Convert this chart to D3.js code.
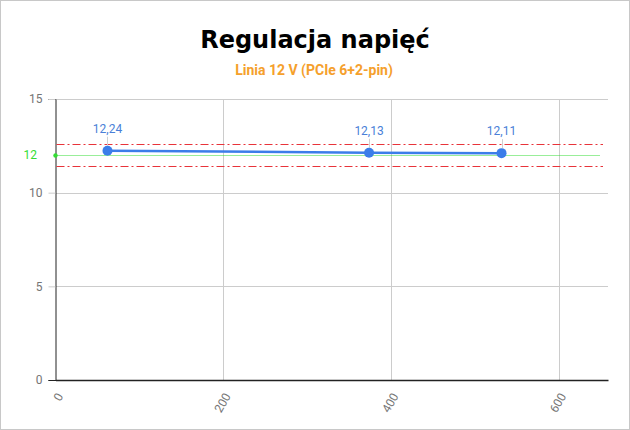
<!DOCTYPE html>
<html>
<head>
<meta charset="utf-8">
<script src="https://cdn.jsdelivr.net/npm/d3@7"></script>
<style>
	body { margin: 0; background: #fff; }
	svg { display: block; }
</style>
</head>
<body>
<svg id="chart" width="630" height="430"></svg>
<script>
var loadW = [62, 374, 532],
	volts = [12.24, 12.13, 12.11],
	nominal = 12,
	limits = [11.4, 12.6],
	yTicks = [0, 5, 10, 15],
	xTicks = [0, 200, 400, 600];

var svg = d3.select("#chart"),
	width = +svg.attr("width"),
	height = +svg.attr("height"),
	margin = {top: 99, right: 22, bottom: 50, left: 55.5};

var x = d3.scaleLinear().domain([0, 659]).range([margin.left, width - margin.right]),
	y = d3.scaleLinear().domain([0, 15]).range([height - margin.bottom, margin.top]);

function px(v) { return Math.round(v) + 0.5; }

// ramka
svg.append("rect")
	.attr("x", 0.5).attr("y", 0.5)
	.attr("width", width - 1).attr("height", height - 1)
	.attr("fill", "#fff")
	.attr("stroke", "#c8c8c8");

// tytuły
svg.append("text")
	.attr("x", width / 2).attr("y", 48)
	.attr("text-anchor", "middle")
	.attr("font-family", "DejaVu Sans")
	.attr("font-weight", "bold")
	.attr("font-size", "24px")
	.attr("fill", "#000")
	.text("Regulacja napięć");
svg.append("text")
	.attr("x", width / 2 - 1).attr("y", 75)
	.attr("text-anchor", "middle")
	.attr("font-family", "Roboto")
	.attr("font-weight", "bold")
	.attr("font-size", "14px")
	.attr("fill", "#f5a02c")
	.text("Linia 12 V (PCIe 6+2-pin)");

// siatka
svg.append("g")
	.selectAll("line.hgrid")
	.data(yTicks)
	.enter()
	.append("line")
	.attr("x1", margin.left).attr("x2", width - margin.right)
	.attr("y1", function (d) { return px(y(d)); })
	.attr("y2", function (d) { return px(y(d)); })
	.attr("stroke", "#cccccc");
svg.append("g")
	.selectAll("line.vgrid")
	.data(xTicks.slice(1))
	.enter()
	.append("line")
	.attr("y1", margin.top).attr("y2", height - margin.bottom)
	.attr("x1", function (d) { return px(x(d)); })
	.attr("x2", function (d) { return px(x(d)); })
	.attr("stroke", "#cccccc");

// osie
var yAxis = svg.append("g")
	.attr("transform", "translate(" + margin.left + ",0)")
	.call(d3.axisLeft(y).tickValues(yTicks).tickSize(7).tickPadding(6));
yAxis.select(".domain").attr("stroke", "#222");
yAxis.selectAll(".tick line").attr("stroke", function (d) { return d === 0 ? "#222" : "#cccccc"; });
yAxis.selectAll("text").attr("font-family", "Roboto").attr("font-size", "12px").attr("fill", "#757575");

var xAxis = svg.append("g")
	.attr("transform", "translate(0," + (height - margin.bottom) + ")")
	.call(d3.axisBottom(x).tickValues(xTicks).tickSize(0).tickPadding(8));
xAxis.select(".domain").attr("stroke", "#222").attr("stroke-width", 1.5);
xAxis.selectAll("text")
	.attr("font-family", "Roboto").attr("font-size", "12px").attr("fill", "#757575")
	.attr("text-anchor", "end")
	.attr("dy", "0.35em")
	.attr("transform", "translate(-3,10) rotate(-60)");

// linie odniesienia
svg.append("line")
	.attr("x1", margin.left).attr("x2", width - 30)
	.attr("y1", px(y(nominal))).attr("y2", px(y(nominal)))
	.attr("stroke", "#33dd33")
	.attr("stroke-width", 1)
	.attr("stroke-dasharray", "1,1");
svg.append("circle")
	.attr("cx", margin.left).attr("cy", px(y(nominal))).attr("r", 2.2)
	.attr("fill", "#33dd33");
svg.append("text")
	.attr("x", 37).attr("y", y(nominal))
	.attr("dy", "0.35em")
	.attr("text-anchor", "end")
	.attr("font-family", "Roboto").attr("font-size", "12px")
	.attr("fill", "#33dd33")
	.text(nominal);

svg.append("g")
	.selectAll("line")
	.data(limits)
	.enter()
	.append("line")
	.attr("x1", margin.left + 1).attr("x2", width - 27)
	.attr("y1", function (d) { return px(y(d)); })
	.attr("y2", function (d) { return px(y(d)); })
	.attr("stroke", "#e8333a")
	.attr("stroke-width", 1)
	.attr("stroke-dasharray", "8,3,2,3");

// seria
var pts = loadW.map(function (d, i) { return {x: d, v: volts[i]}; });
var line = d3.line()
	.x(function (d) { return x(d.x); })
	.y(function (d) { return y(d.v); });

svg.append("path")
	.datum(pts)
	.attr("d", line)
	.attr("fill", "none")
	.attr("stroke", "#3b7de9")
	.attr("stroke-width", 2.5);

var pt = svg.append("g")
	.selectAll("g")
	.data(pts)
	.enter()
	.append("g");
pt.append("line")
	.attr("x1", function (d) { return px(x(d.x)); })
	.attr("x2", function (d) { return px(x(d.x)); })
	.attr("y1", function (d) { return y(d.v) - 5; })
	.attr("y2", function (d) { return y(d.v) - 14; })
	.attr("stroke", "#d0d0d0")
	.attr("stroke-width", 1);
pt.append("circle")
	.attr("cx", function (d) { return x(d.x); })
	.attr("cy", function (d) { return y(d.v); })
	.attr("r", 5)
	.attr("fill", "#3b7de9");
pt.append("text")
	.attr("x", function (d) { return x(d.x); })
	.attr("y", function (d) { return y(d.v) - 18; })
	.attr("text-anchor", "middle")
	.attr("font-family", "Roboto").attr("font-size", "12px")
	.attr("fill", "#4a7fd8")
	.text(function (d) { return d.v.toFixed(2).replace(".", ","); });
</script>
</body>
</html>
